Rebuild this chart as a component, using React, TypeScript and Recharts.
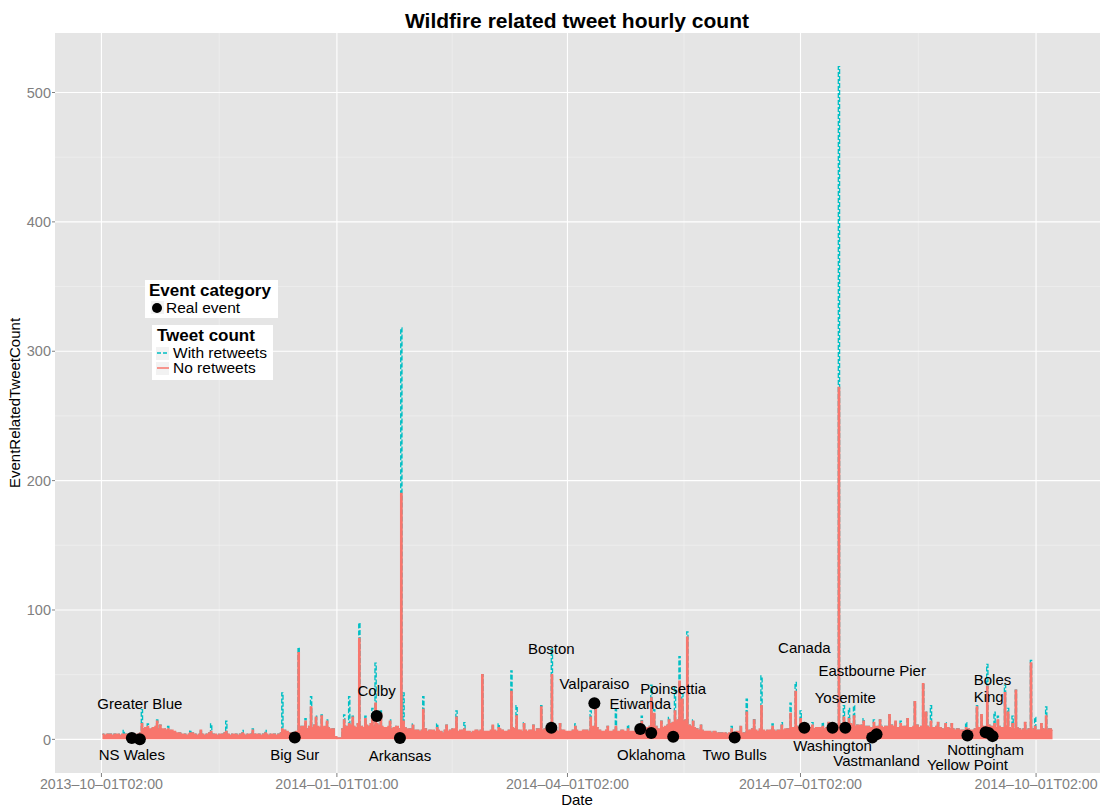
import React from "react";
import { ComposedChart, Area, Scatter, XAxis, YAxis, CartesianGrid } from "recharts";

const FONT = '"Liberation Sans", Arial, Helvetica, sans-serif';
const RED = "#F8766D";
const TEAL = "#00BFC4";
const GREY_TEXT = "#7F7F7F";

// daily level of the tweet band (no retweets), one array per month
const oct13 = [4, 3, 4, 4, 3, 4, 4, 3, 4, 4, 3, 4, 4, 3, 4, 5, 8, 9, 7, 8, 9, 10, 8, 7, 8, 7, 6, 7, 6, 5, 5];
const nov13 = [4, 4, 3, 4, 5, 4, 3, 4, 4, 3, 4, 5, 4, 4, 3, 4, 4, 5, 4, 3, 4, 4, 3, 4, 4, 3, 4, 4, 3, 4];
const dec13 = [4, 3, 4, 4, 3, 4, 4, 3, 4, 5, 7, 6, 5, 5, 5, 6, 8, 10, 9, 8, 10, 9, 11, 10, 9, 9, 10, 9, 8, 8, 2];
const jan14 = [1, 1, 8, 10, 9, 11, 10, 9, 12, 10, 9, 11, 10, 12, 10, 12, 11, 10, 9, 9, 10, 8, 9, 10, 8, 7, 9, 8, 8, 7, 7];
const feb14 = [7, 6, 7, 8, 6, 7, 7, 6, 7, 6, 5, 7, 6, 7, 8, 7, 6, 7, 7, 6, 6, 5, 6, 7, 6, 7, 6, 6];
const mar14 = [6, 7, 7, 6, 8, 7, 6, 6, 7, 9, 8, 7, 7, 6, 7, 6, 7, 7, 6, 8, 7, 7, 8, 8, 9, 8, 7, 6, 7, 7, 6];
const apr14 = [6, 6, 7, 7, 6, 6, 7, 7, 6, 7, 10, 9, 7, 6, 6, 7, 6, 6, 7, 6, 6, 7, 6, 5, 6, 6, 6, 7, 6, 7];
const may14 = [8, 9, 10, 9, 10, 8, 8, 9, 10, 11, 12, 13, 14, 15, 16, 14, 15, 11, 10, 9, 8, 7, 7, 6, 6, 6, 5, 6, 5, 5, 5];
const jun14 = [5, 4, 5, 5, 5, 6, 5, 5, 5, 6, 7, 8, 7, 6, 8, 7, 6, 7, 7, 7, 6, 7, 7, 7, 8, 8, 9, 9, 10, 9];
const jul14 = [9, 9, 8, 9, 8, 8, 9, 9, 8, 8, 9, 9, 10, 9, 10, 11, 12, 11, 11, 12, 11, 10, 11, 11, 10, 10, 10, 9, 9, 10, 10];
const aug14 = [10, 9, 10, 10, 11, 10, 9, 9, 9, 10, 10, 9, 9, 10, 11, 9, 10, 11, 10, 9, 9, 9, 10, 9, 8, 8, 9, 8, 8, 7, 8];
const sep14 = [7, 7, 7, 8, 7, 7, 8, 9, 9, 10, 10, 11, 10, 10, 9, 10, 9, 9, 10, 9, 8, 8, 9, 8, 7, 8, 7, 8, 7, 8];
const oct14 = [7, 7, 8, 8, 7, 8, 7];

const months: [number, number, number[]][] = [
  [2013, 9, oct13], [2013, 10, nov13], [2013, 11, dec13], [2014, 0, jan14],
  [2014, 1, feb14], [2014, 2, mar14], [2014, 3, apr14], [2014, 4, may14],
  [2014, 5, jun14], [2014, 6, jul14], [2014, 7, aug14], [2014, 8, sep14], [2014, 9, oct14],
];

// hourly peaks: time, no retweets, with retweets
const peaks: [string, number, number][] = [
  ["2013-10-09T15", 4, 7], ["2013-10-16T19", 12, 23], ["2013-10-19T10", 10, 12],
  ["2013-10-22T17", 14, 15], ["2013-10-24T05", 11, 11], ["2013-10-27T08", 8, 10],
  ["2013-11-04T14", 5, 7], ["2013-11-08T20", 7, 7], ["2013-11-12T21", 6, 12],
  ["2013-11-18T17", 6, 14], ["2013-11-25T11", 5, 7], ["2013-11-29T09", 7, 8],
  ["2013-12-04T09", 5, 7], ["2013-12-10T12", 8, 36], ["2013-12-17T05", 67, 71],
  ["2013-12-19T14", 14, 16], ["2013-12-21T22", 25, 33], ["2013-12-23T19", 17, 18],
  ["2013-12-26T05", 18, 19], ["2013-12-28T10", 14, 15], ["2014-01-03T19", 15, 19],
  ["2014-01-05T17", 12, 33], ["2014-01-07T11", 17, 18], ["2014-01-09T15", 78, 90],
  ["2014-01-12T09", 16, 18], ["2014-01-14T20", 18, 24], ["2014-01-16T07", 28, 59],
  ["2014-01-18T10", 20, 22], ["2014-01-21T15", 14, 15], ["2014-01-26T10", 190, 318],
  ["2014-01-27T03", 14, 36], ["2014-01-30T12", 11, 12], ["2014-02-03T14", 23, 33],
  ["2014-02-09T10", 9, 12], ["2014-02-12T18", 11, 11], ["2014-02-16T12", 17, 22],
  ["2014-02-19T17", 8, 13], ["2014-02-26T17", 50, 50], ["2014-03-02T20", 11, 11],
  ["2014-03-05T11", 9, 12], ["2014-03-10T10", 37, 53], ["2014-03-12T10", 18, 26],
  ["2014-03-15T06", 12, 13], ["2014-03-18T14", 11, 11], ["2014-03-21T17", 25, 26],
  ["2014-03-26T00", 50, 70], ["2014-03-29T09", 12, 12], ["2014-04-04T08", 10, 12],
  ["2014-04-10T07", 17, 22], ["2014-04-12T05", 23, 23], ["2014-04-16T15", 10, 10],
  ["2014-04-20T00", 10, 23], ["2014-04-24T12", 8, 11], ["2014-04-30T05", 14, 18],
  ["2014-05-03T17", 32, 42], ["2014-05-04T22", 20, 23], ["2014-05-07T13", 14, 14],
  ["2014-05-10T12", 15, 17], ["2014-05-13T04", 22, 40], ["2014-05-14T17", 45, 64],
  ["2014-05-15T22", 31, 35], ["2014-05-17T19", 79, 83], ["2014-05-20T08", 14, 15],
  ["2014-05-23T10", 11, 11], ["2014-06-04T10", 8, 10], ["2014-06-07T14", 10, 10],
  ["2014-06-10T05", 21, 31], ["2014-06-13T00", 15, 16], ["2014-06-15T17", 26, 49],
  ["2014-06-20T09", 10, 12], ["2014-06-23T14", 11, 13], ["2014-06-27T10", 20, 28],
  ["2014-06-29T10", 37, 44], ["2014-07-01T07", 16, 22], ["2014-07-05T12", 11, 13],
  ["2014-07-09T15", 10, 13], ["2014-07-12T04", 13, 13], ["2014-07-16T05", 272, 520],
  ["2014-07-18T02", 17, 26], ["2014-07-20T02", 16, 24], ["2014-07-22T00", 18, 26],
  ["2014-07-25T12", 14, 16], ["2014-07-29T12", 13, 15], ["2014-08-01T08", 15, 15],
  ["2014-08-04T17", 19, 19], ["2014-08-07T10", 14, 14], ["2014-08-09T10", 12, 14],
  ["2014-08-11T20", 16, 16], ["2014-08-14T12", 29, 29], ["2014-08-18T00", 43, 43],
  ["2014-08-19T06", 21, 21], ["2014-08-21T02", 14, 26], ["2014-08-23T15", 13, 13],
  ["2014-08-26T12", 12, 13], ["2014-08-29T08", 12, 12], ["2014-09-03T14", 9, 13],
  ["2014-09-08T00", 25, 26], ["2014-09-09T14", 19, 19], ["2014-09-12T02", 41, 58],
  ["2014-09-14T18", 12, 21], ["2014-09-16T08", 15, 18], ["2014-09-18T22", 36, 42],
  ["2014-09-20T08", 21, 24], ["2014-09-21T20", 12, 18], ["2014-09-23T10", 38, 38],
  ["2014-09-26T16", 13, 13], ["2014-09-29T05", 59, 61], ["2014-09-30T12", 10, 17],
  ["2014-10-03T09", 12, 12], ["2014-10-05T02", 18, 25],
];

// real events: name, time, tweet count, label height
const events: [string, string, number, number][] = [
  ["NS Wales", "2013-10-12T23", 1, -12],
  ["Greater Blue", "2013-10-16T02", 0, 28],
  ["Big Sur", "2013-12-15T14", 1.5, -12],
  ["Colby", "2014-01-16T14", 18, 38],
  ["Arkansas", "2014-01-25T16", 1, -12.5],
  ["Boston", "2014-03-25T19", 9, 70],
  ["Valparaiso", "2014-04-11T14", 28, 43],
  ["Etiwanda", "2014-04-29T12", 8, 28],
  ["Oklahoma", "2014-05-03T19", 5, -11.5],
  ["Poinsettia", "2014-05-12T09", 2, 39.5],
  ["Two Bulls", "2014-06-05T09", 1.5, -11.5],
  ["Canada", "2014-07-02T14", 9, 71],
  ["Washington", "2014-07-13T14", 9, -4.5],
  ["Yosemite", "2014-07-18T14", 9, 32.5],
  ["Eastbourne Pier", "2014-07-29T02", 1.5, 53.5],
  ["Vastmanland", "2014-07-30T19", 4, -16],
  ["Yellow Point", "2014-09-04T07", 3, -19.5],
  ["Nottingham", "2014-09-11T09", 5.5, -7.5],
  ["King", "2014-09-12T14", 5, 33],
  ["Boles", "2014-09-14T02", 2.5, 46.5],
];

const tickTimes = ["2013-10-01T02", "2014-01-01T01", "2014-04-01T02", "2014-07-01T02", "2014-10-01T02"];
const tickLabels = ["2013–10–01T02:00", "2014–01–01T01:00", "2014–04–01T02:00", "2014–07–01T02:00", "2014–10–01T02:00"];
const yTicks = [0, 100, 200, 300, 400, 500];
const yMinor = [50, 150, 250, 350, 450];

const ts = (s: string) => {
  const [d, h] = s.split("T");
  const [y, m, dd] = d.split("-").map(Number);
  return Date.UTC(y, m - 1, dd, Number(h || 0));
};

const rows: { t: number; noRT: number; withRT: number }[] = [];
months.forEach(([y, m, vals]) => {
  vals.forEach((v, i) => rows.push({ t: Date.UTC(y, m, i + 1, 12), noRT: v, withRT: v }));
});
peaks.forEach(([s, no, w]) => rows.push({ t: ts(s), noRT: no, withRT: w }));
rows.sort((a, b) => a.t - b.t);

const tMin = rows[0].t;
const tMax = rows[rows.length - 1].t;
const tPad = (tMax - tMin) * 0.05;
const xDomain = [tMin - tPad, tMax + tPad];
const yMax = Math.max(...rows.map((r) => r.withRT));
const yDomain = [-yMax * 0.05, yMax * 1.05];

const xTicks = tickTimes.map(ts);
const xMinor = xTicks.slice(1).map((t, i) => (t + xTicks[i]) / 2);

const dots = events.map(([name, s, c]) => ({ name, t: ts(s), y: c }));
const labels = events.map(([name, s, , ly]) => ({ name, t: ts(s), y: ly }));

const Dot = (p: any) => <circle cx={p.cx} cy={p.cy} r={6} fill="#000" />;
const EventLabel = (p: any) => (
  <text x={p.cx} y={p.cy} textAnchor="middle" dominantBaseline="central" fontSize={15} fontFamily={FONT} fill="#000">
    {p.payload.name}
  </text>
);

const Overlay = () => (
  <svg width={1102} height={809} style={{ position: "absolute", left: 0, top: 0, pointerEvents: "none" }} fontFamily={FONT}>
    <text x={577} y={28} textAnchor="middle" fontWeight="bold" fontSize={21}>
      Wildfire related tweet hourly count
    </text>
    <text x={577} y={805} textAnchor="middle" fontSize={15}>Date</text>
    <text transform="translate(20,403) rotate(-90)" textAnchor="middle" fontSize={15}>EventRelatedTweetCount</text>

    <rect x={145} y={280} width={133} height={38} fill="#fff" />
    <text x={149} y={296} fontWeight="bold" fontSize={17}>Event category</text>
    <rect x={151} y={301} width={13} height={13} fill="#F2F2F2" />
    <circle cx={157} cy={308} r={5} fill="#000" />
    <text x={166} y={313} fontSize={15.5}>Real event</text>

    <rect x={152} y={325} width={121} height={55} fill="#fff" />
    <text x={157} y={341} fontWeight="bold" fontSize={17}>Tweet count</text>
    <rect x={156} y={347} width={13} height={13} fill="#F2F2F2" />
    <line x1={157} x2={169} y1={353} y2={353} stroke={TEAL} strokeWidth={1.5} strokeDasharray="4 2" />
    <text x={173} y={358} fontSize={15.5}>With retweets</text>
    <rect x={156} y={362} width={13} height={13} fill="#F2F2F2" />
    <line x1={157} x2={169} y1={368} y2={368} stroke={RED} strokeWidth={1.5} />
    <text x={173} y={373} fontSize={15.5}>No retweets</text>
  </svg>
);

export default function App() {
  return (
    <div style={{ position: "absolute", left: 0, top: 0, width: 1102, height: 809, background: "#fff" }}>
      <ComposedChart width={1102} height={809} data={rows} margin={{ top: 33, right: 2, bottom: 0, left: 15 }}>
        <CartesianGrid fill="#E5E5E5" stroke="#F2F2F2" strokeWidth={0.6} horizontalValues={yMinor} verticalValues={xMinor} />
        <CartesianGrid stroke="#FFFFFF" strokeWidth={1.1} horizontalValues={yTicks} verticalValues={xTicks} />
        <XAxis
          dataKey="t"
          type="number"
          domain={xDomain}
          ticks={xTicks}
          interval={0}
          allowDataOverflow
          tickFormatter={(v: number) => tickLabels[xTicks.indexOf(v)] ?? ""}
          axisLine={false}
          tickLine={{ stroke: GREY_TEXT }}
          tickSize={4}
          tickMargin={2}
          height={36}
          tick={{ fill: GREY_TEXT, fontSize: 14.2, fontFamily: FONT }}
        />
        <YAxis
          type="number"
          domain={yDomain}
          ticks={yTicks}
          allowDataOverflow
          axisLine={false}
          tickLine={{ stroke: GREY_TEXT }}
          tickSize={3}
          tickMargin={1}
          width={40}
          tick={{ fill: GREY_TEXT, fontSize: 14.5, fontFamily: FONT }}
        />
        <Area dataKey="withRT" type="step" stroke={TEAL} strokeWidth={1.3} strokeDasharray="5 2" fill="none" baseValue={0} isAnimationActive={false} />
        <Area dataKey="noRT" type="step" stroke={RED} strokeWidth={1.5} fill={RED} fillOpacity={1} baseValue={0} isAnimationActive={false} />
        <Scatter data={dots} dataKey="y" shape={Dot} isAnimationActive={false} />
        <Scatter data={labels} dataKey="y" shape={EventLabel} isAnimationActive={false} />
      </ComposedChart>
      <Overlay />
    </div>
  );
}
